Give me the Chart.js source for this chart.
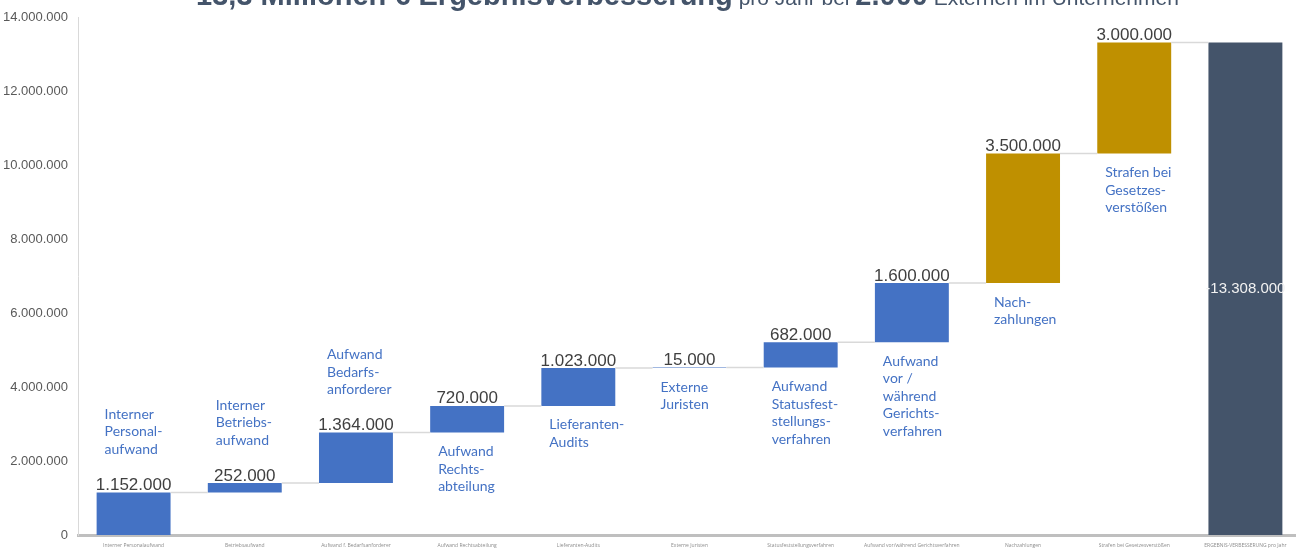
<!DOCTYPE html>
<html>
<head>
<meta charset="utf-8">
<script src="https://cdn.jsdelivr.net/npm/chart.js@4/dist/chart.umd.min.js"></script>
<style>
  html, body { margin: 0; padding: 0; background: #ffffff; overflow: hidden; }
  #wrap { width: 1301px; height: 550px; }
</style>
</head>
<body>
<div id="wrap"><canvas id="c" width="1301" height="550"></canvas></div>
<script>
// Kategorien (Achsenbeschriftung unten)
const categories = [
  'Interner Personalaufwand', 'Betriebsaufwand', 'Aufwand f. Bedarfsanforderer',
  'Aufwand Rechtsabteilung', 'Lieferanten-Audits', 'Externe Juristen',
  'Statusfeststellungsverfahren', 'Aufwand vor/während Gerichtsverfahren',
  'Nachzahlungen', 'Strafen bei Gesetzesverstößen', 'ERGEBNIS-VERBESSERUNG pro Jahr'
];

// Einsparungen je Position (€ pro Jahr)
const savings = [1152000, 252000, 1364000, 720000, 1023000, 15000, 682000, 1600000, 3500000, 3000000];

// Beschreibungstexte an den Balken
const descriptions = [
  ['Interner', 'Personal-', 'aufwand'],
  ['Interner', 'Betriebs-', 'aufwand'],
  ['Aufwand', 'Bedarfs-', 'anforderer'],
  ['Aufwand', 'Rechts-', 'abteilung'],
  ['Lieferanten-', 'Audits'],
  ['Externe', 'Juristen'],
  ['Aufwand', 'Statusfest-', 'stellungs-', 'verfahren'],
  ['Aufwand', 'vor /', 'während', 'Gerichts-', 'verfahren'],
  ['Nach-', 'zahlungen'],
  ['Strafen bei', 'Gesetzes-', 'verstößen']
];

// Achsenwerte
const yMin = 0;
const yMax = 14000000;
const yStep = 2000000;

// Titelteile: [Text, fett?]
const titleParts = [
  ['13,3 Millionen € Ergebnisverbesserung', true],
  [' pro Jahr bei ', false],
  ['2.000', true],
  [' Externen im Unternehmen', false]
];

// Darstellung
const descPlacement = ['above', 'above', 'above', 'below', 'below', 'below', 'below', 'below', 'below', 'below'];
const BLUE = '#4472C4', GOLD = '#BF9000', SLATE = '#44546A';
const barColors = [BLUE, BLUE, BLUE, BLUE, BLUE, BLUE, BLUE, BLUE, GOLD, GOLD, SLATE];

function fmt(v) {
  const s = Math.round(Math.abs(v)).toString();
  return (v < 0 ? '-' : '') + s.replace(/\B(?=(\d{3})+(?!\d))/g, '.');
}

// Wasserfall: Start/Ende je Balken aus den Einsparungen aufsummiert
const ranges = [];
let running = 0;
savings.forEach(v => { ranges.push([running, running + v]); running += v; });
const total = running;
ranges.push([0, total]);

const waterfallDecor = {
  id: 'waterfallDecor',
  afterDatasetsDraw(chart) {
    const ctx = chart.ctx;
    const meta = chart.getDatasetMeta(0);
    const bars = meta.data;
    ctx.save();

    // Verbindungslinien zwischen den Balken
    ctx.strokeStyle = '#d9d9d9';
    ctx.lineWidth = 1.5;
    for (let i = 0; i < bars.length - 1; i++) {
      const a = bars[i], b = bars[i + 1];
      const yv = chart.scales.y.getPixelForValue(ranges[i][1]);
      ctx.beginPath();
      ctx.moveTo(a.x + a.width / 2, yv);
      ctx.lineTo(b.x - b.width / 2, yv);
      ctx.stroke();
    }

    // Wertbeschriftungen über den Einzelbalken
    ctx.font = '17px "Liberation Sans", Arial, sans-serif';
    ctx.fillStyle = '#404040';
    ctx.textAlign = 'center';
    ctx.textBaseline = 'alphabetic';
    for (let i = 0; i < savings.length; i++) {
      const b = bars[i];
      ctx.fillText(fmt(savings[i]), b.x, Math.min(b.y, b.base) - 2.5);
    }

    // Summenbalken
    const tb = bars[bars.length - 1];
    ctx.font = '15px "Liberation Sans", Arial, sans-serif';
    ctx.fillStyle = '#f2f2f2';
    ctx.textBaseline = 'middle';
    ctx.fillText(fmt(-total), tb.x, (tb.y + tb.base) / 2);

    // Beschreibungen
    ctx.font = '14px Lato, "Open Sans", sans-serif';
    ctx.fillStyle = BLUE;
    ctx.textAlign = 'left';
    ctx.textBaseline = 'middle';
    const lh = 17.5;
    for (let i = 0; i < descriptions.length; i++) {
      const b = bars[i];
      const lines = descriptions[i];
      const top = Math.min(b.y, b.base), bottom = Math.max(b.y, b.base);
      const x = b.x - 29;
      let y0;
      if (descPlacement[i] === 'below') {
        y0 = bottom + 19;
      } else {
        y0 = top - 43 - (lines.length - 1) * lh;
      }
      lines.forEach((t, k) => ctx.fillText(t, x, y0 + k * lh));
    }

    // Titel (gemischte Schriftschnitte)
    const big = 'bold 29px "Liberation Sans", Arial, sans-serif';
    const small = '21px "Liberation Sans", Arial, sans-serif';
    let w = 0;
    titleParts.forEach(([t, bold]) => { ctx.font = bold ? big : small; w += ctx.measureText(t).width; });
    const ca = chart.chartArea;
    let x = (ca.left + ca.right) / 2 - 2 - w / 2;
    ctx.fillStyle = SLATE;
    ctx.textAlign = 'left';
    ctx.textBaseline = 'alphabetic';
    titleParts.forEach(([t, bold]) => {
      ctx.font = bold ? big : small;
      ctx.fillText(t, x, 5);
      x += ctx.measureText(t).width;
    });

    ctx.restore();
  }
};

new Chart(document.getElementById('c'), {
  type: 'bar',
  data: {
    labels: categories,
    datasets: [{
      data: ranges,
      backgroundColor: barColors,
      borderWidth: 0,
      barPercentage: 0.665,
      categoryPercentage: 1
    }]
  },
  options: {
    responsive: false,
    animation: false,
    devicePixelRatio: 1,
    layout: { padding: { top: 17, left: 0, right: 0, bottom: 0 } },
    plugins: { legend: { display: false }, title: { display: false }, tooltip: { enabled: false } },
    scales: {
      x: {
        afterFit(scale) { scale.height = 15; },
        grid: { display: false, drawTicks: false },
        border: { display: true, color: '#bfbfbf', width: 3 },
        ticks: {
          autoSkip: false, maxRotation: 0, minRotation: 0, padding: 8,
          color: '#8c8c8c',
          font: { family: '"Open Sans", sans-serif', size: 5 }
        }
      },
      y: {
        min: yMin, max: yMax,
        afterFit(scale) {
          scale.width = 78;
          scale.paddingTop = 0;
          scale.paddingBottom = 0;
        },
        grid: { display: false, drawTicks: false },
        border: { display: true, color: '#d9d9d9', width: 1 },
        ticks: {
          stepSize: yStep, padding: 10,
          color: '#595959',
          font: { family: '"Liberation Sans", Arial, sans-serif', size: 13 },
          callback: v => fmt(v)
        }
      }
    }
  },
  plugins: [waterfallDecor]
});
</script>
</body>
</html>
